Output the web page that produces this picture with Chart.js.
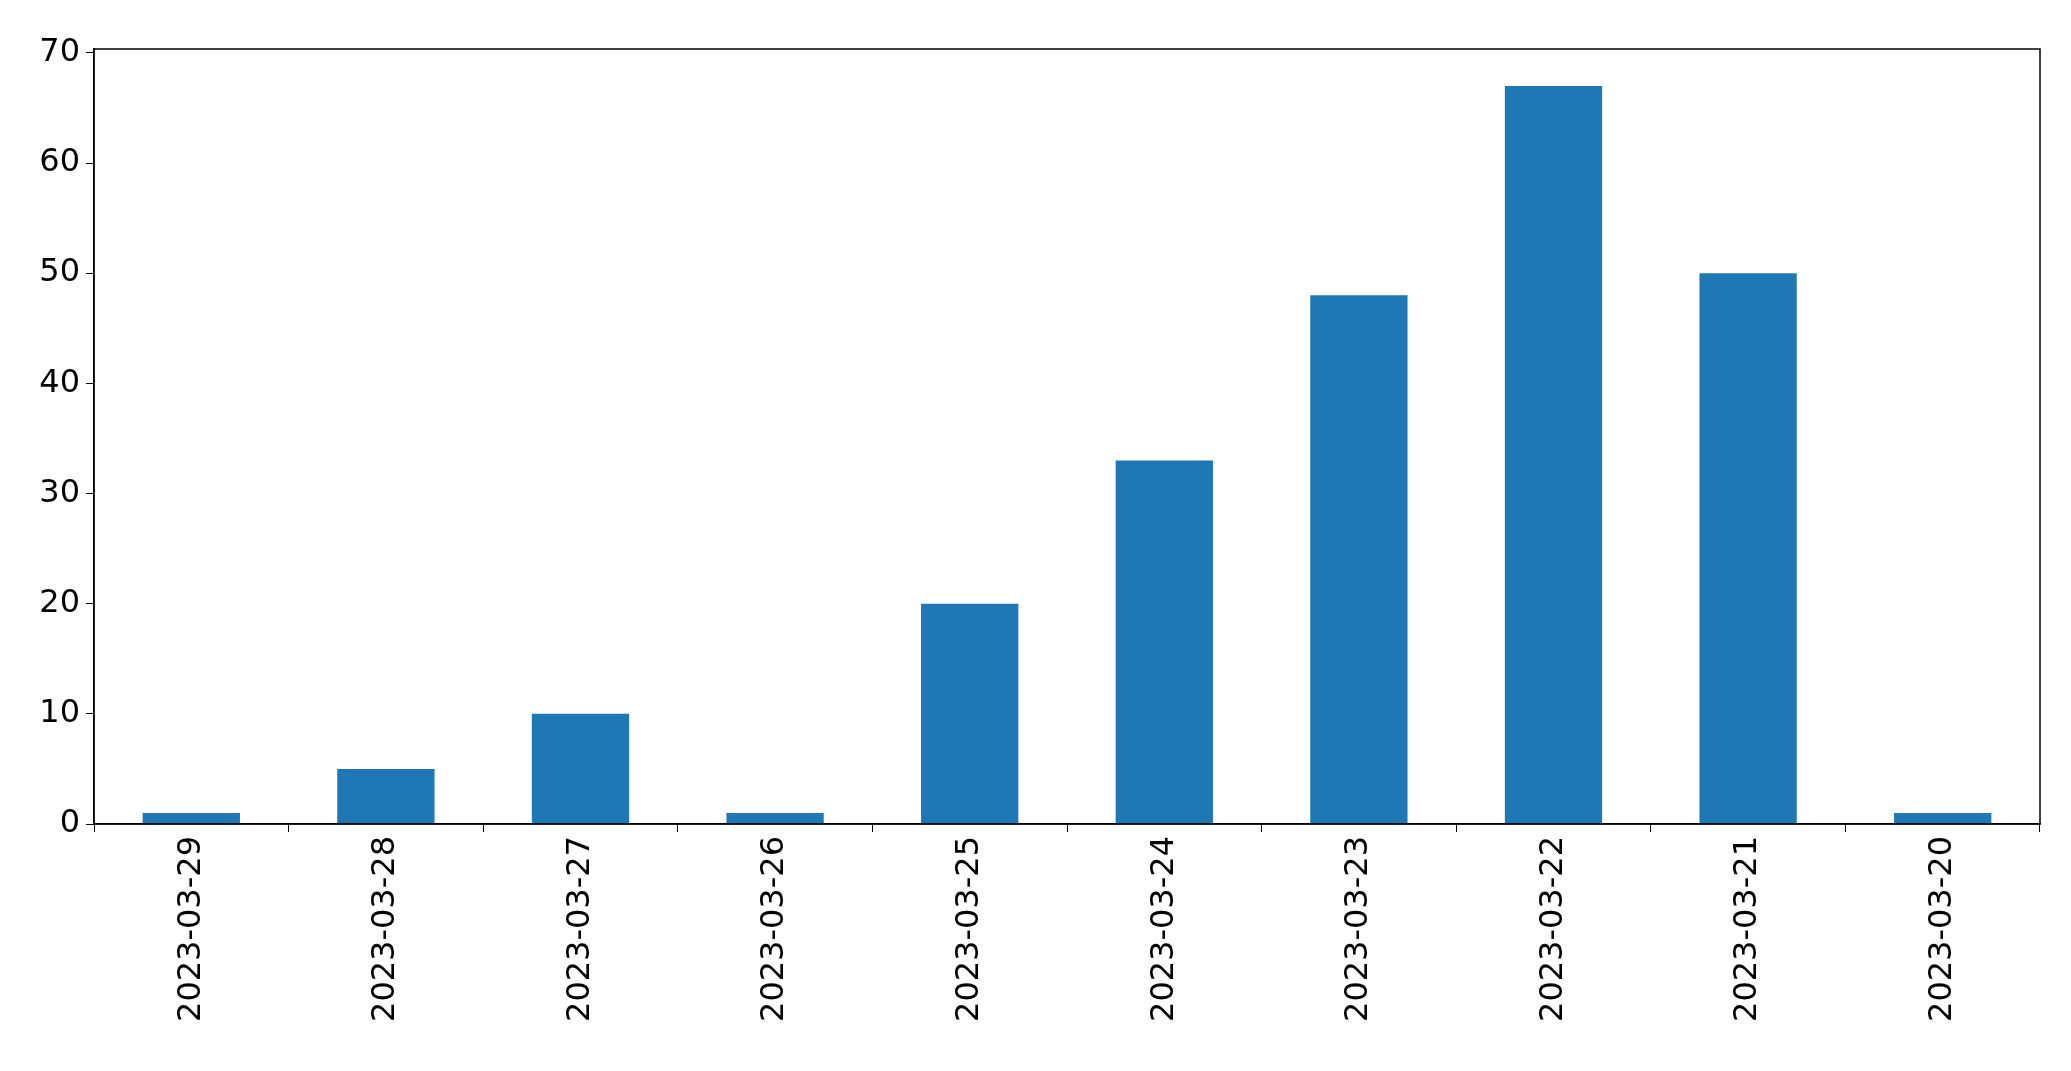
<!DOCTYPE html>
<html><head><meta charset="utf-8">
<script src="https://cdn.jsdelivr.net/npm/chart.js@4"></script>
<style>html,body{margin:0;padding:0;background:#fff}#w{width:2071px;height:1071px}</style>
</head><body><div id="w"><canvas id="c"></canvas></div>
<script>
const categories = ["2023-03-29","2023-03-28","2023-03-27","2023-03-26","2023-03-25","2023-03-24","2023-03-23","2023-03-22","2023-03-21","2023-03-20"];
const counts = [1,5,10,1,20,33,48,67,50,1];
const frame = {id:'frame',afterDraw(ch){const a=ch.chartArea,x=ch.ctx;x.save();x.strokeStyle='#000';x.lineWidth=1.5;x.strokeRect(a.left,a.top,a.right-a.left,a.bottom-a.top);x.restore();}};
new Chart(document.getElementById('c'),{
type:'bar',
data:{labels:categories,datasets:[{data:counts,backgroundColor:'#1f77b4',categoryPercentage:1,barPercentage:0.5}]},
options:{responsive:true,maintainAspectRatio:false,animation:false,
layout:{padding:{top:49,right:31,left:0,bottom:0}},
plugins:{legend:{display:false},tooltip:{enabled:false}},
scales:{
x:{grid:{drawOnChartArea:false,color:'#000',tickLength:8},border:{color:'#000',width:1.5},
 ticks:{color:'#000',maxRotation:90,minRotation:90,font:{family:'DejaVu Sans',size:32},padding:4},
 afterFit(s){s.height=247;}},
y:{min:0,max:70.35,grid:{drawOnChartArea:false,color:'#000',tickLength:8},border:{color:'#000',width:1.5},
 ticks:{stepSize:10,includeBounds:false,color:'#000',font:{family:'DejaVu Sans',size:32},padding:6},
 afterFit(s){s.width=94;}}
}},
plugins:[frame]});
</script></body></html>
